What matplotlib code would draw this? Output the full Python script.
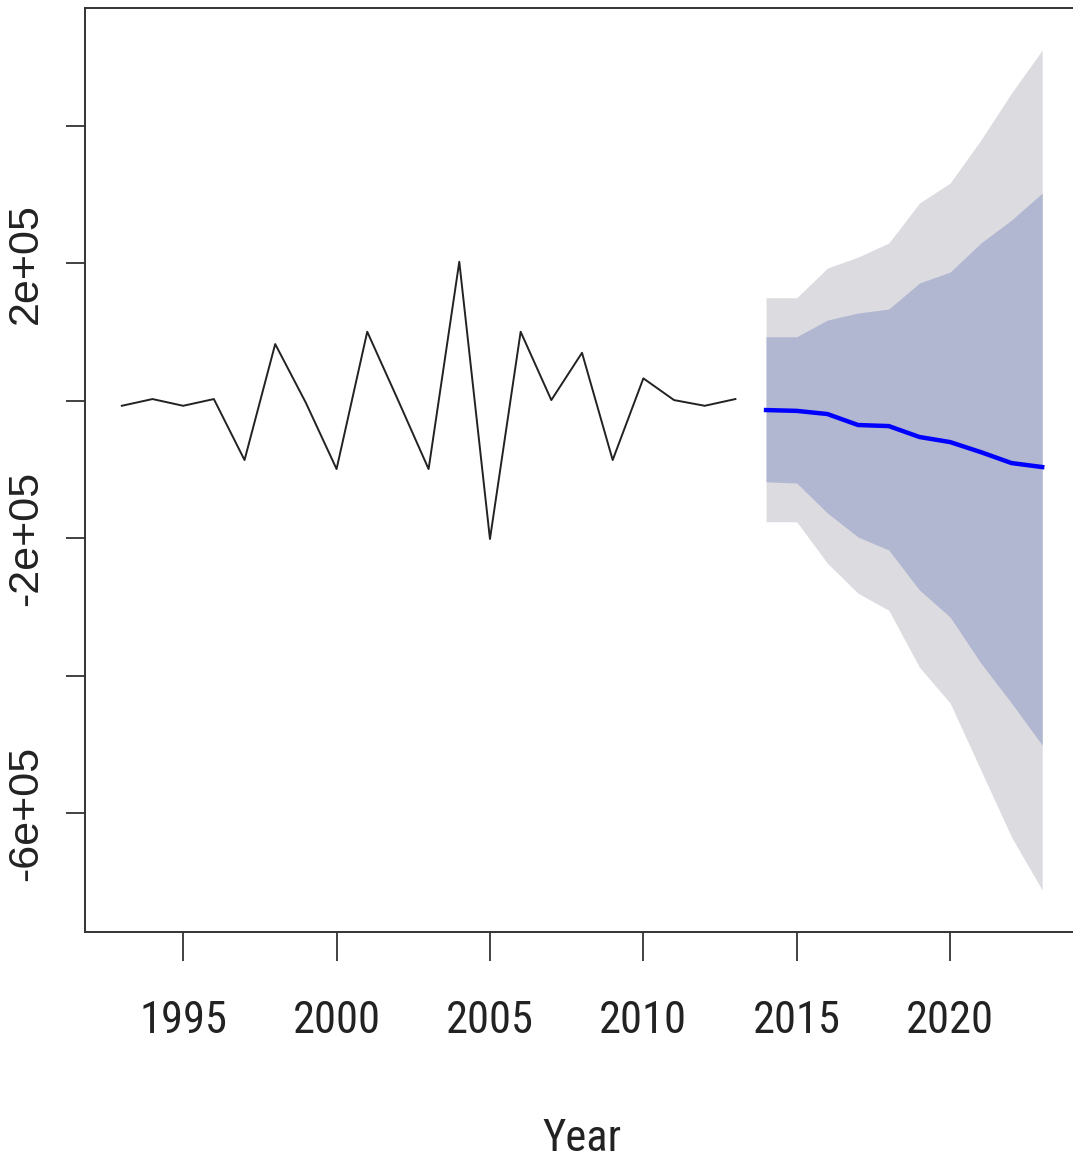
import numpy as np
import matplotlib
matplotlib.use("Agg")
import matplotlib.pyplot as plt
from matplotlib import font_manager

# historical series
years_hist = np.arange(1993, 2014)
values_hist = [-7600, 2200, -7600, 2200, -86500, 82200, -3300, -99600, 100100, 1000,
               -99600, 201900, -201400, 100100, 700, 69500, -86500, 32300, 700, -7600, 2200]

# forecast
years_fc = np.arange(2014, 2024)
fc_mean = [-13800, -15000, -19600, -35600, -37100, -53000, -60400, -75000, -90900, -96700]
lo80 = [-118100, -120000, -163600, -198500, -217400, -275600, -314900, -381800, -440000, -501100]
hi80 = [92800, 92800, 117100, 127300, 133100, 170900, 186900, 229100, 262500, 301800]
lo95 = [-176300, -176300, -236700, -280300, -305000, -387900, -440000, -537400, -634800, -711900]
hi95 = [149500, 149500, 192700, 208700, 229100, 287300, 316400, 378900, 447300, 509800]

x_ticks = [1995, 2000, 2005, 2010, 2015, 2020]
y_ticks = [-6e5, -4e5, -2e5, 0, 2e5, 4e5]
y_labels = ['-6e+05', '', '-2e+05', '', '2e+05', '']

# narrow font for the x axis texts, first one that is installed
names = {f.name for f in font_manager.fontManager.ttflist}
narrow = 'Liberation Sans'
for cand in ['Liberation Sans Narrow', 'Arial Narrow', 'Roboto Condensed',
             'Archivo Narrow', 'Open Sans Condensed', 'Barlow Semi Condensed']:
    if cand in names:
        narrow = cand
        break

fig = plt.figure(figsize=(10.73, 11.59), dpi=100)
W, H = 1073, 1159
ax = fig.add_axes([85 / W, 1 - 932 / H, (1079 - 85) / W, (932 - 8) / H])

ax.fill_between(years_fc, lo95, hi95, color='#DBDBE0', lw=0)
ax.fill_between(years_fc, lo80, hi80, color='#B1B6D1', lw=0)
ax.plot(years_hist, values_hist, color='#222222', lw=1.4)
ax.plot(years_fc, fc_mean, color='#0000FF', lw=3.2)

ax.set_xlim(1991.8, 2024.2)
ax.set_ylim(-773000, 571000)

ax.set_xticks(x_ticks)
ax.set_xticklabels([str(t) for t in x_ticks], family=narrow, fontsize=32, color='#222222')
ax.set_yticks(y_ticks)
ax.set_yticklabels(y_labels, family='Liberation Sans', fontsize=31, rotation=90,
                   va='center', color='#222222')
ax.tick_params(axis='x', length=21, width=1.3, pad=28, color='#333333')
ax.tick_params(axis='y', length=14, width=1.3, pad=14, color='#333333')

for s in ax.spines.values():
    s.set_linewidth(1.4)
    s.set_color('#333333')

ax.set_xlabel('Year', family=narrow, fontsize=32, color='#222222', labelpad=55)

fig.savefig('out.png', dpi=100)
